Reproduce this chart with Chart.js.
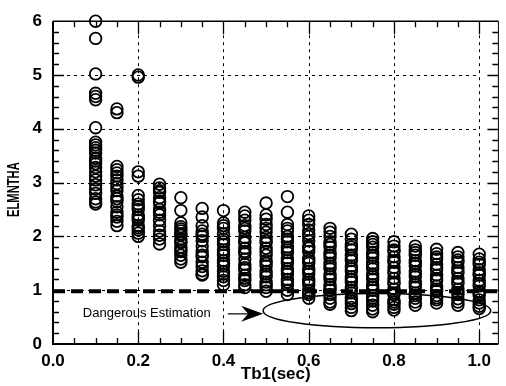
<!DOCTYPE html>
<html>
<head>
<meta charset="utf-8">
<script src="https://cdn.jsdelivr.net/npm/chart.js@4.4.0/dist/chart.umd.min.js"></script>
<style>
  html, body { margin: 0; padding: 0; background: #fff; }
</style>
</head>
<body>
<canvas id="chart" width="506" height="386"></canvas>
<script>
// column positions on the Tb1 axis (sec)
const tb1 = [0.1, 0.15, 0.2, 0.25, 0.3, 0.35, 0.4, 0.45, 0.5, 0.55,
             0.6, 0.65, 0.7, 0.75, 0.8, 0.85, 0.9, 0.95, 1.0];

// ELMNTHA values
const y010 = [6.0, 5.68, 5.02, 4.66, 4.6, 4.54, 4.02, 3.75, 3.7, 3.65, 3.6, 3.55, 3.45, 3.4, 3.35, 3.28, 3.2, 3.12, 3.05, 2.96, 2.88, 2.8, 2.7, 2.64, 2.6];
const y015 = [4.37, 4.3, 3.3, 3.24, 3.18, 3.12, 3.05, 2.98, 2.92, 2.85, 2.75, 2.7, 2.65, 2.55, 2.45, 2.4, 2.36, 2.28, 2.2];
const y020 = [5.0, 4.96, 3.2, 3.12, 2.76, 2.68, 2.6, 2.55, 2.5, 2.4, 2.35, 2.3, 2.2, 2.16, 2.12, 2.06, 2.0];
const y025 = [2.97, 2.9, 2.85, 2.82, 2.72, 2.65, 2.62, 2.5, 2.45, 2.4, 2.3, 2.2, 2.1, 2.02, 1.95, 1.86];
const y030 = [2.72, 2.48, 2.25, 2.18, 2.14, 2.1, 2.05, 2.02, 1.95, 1.9, 1.88, 1.8, 1.75, 1.72, 1.65, 1.58, 1.52];
const y035 = [2.52, 2.36, 2.2, 2.1, 2.04, 2.0, 1.92, 1.82, 1.72, 1.65, 1.62, 1.52, 1.44, 1.36, 1.3, 1.28];
const y040 = [2.48, 2.25, 2.2, 2.15, 2.05, 1.95, 1.9, 1.85, 1.75, 1.7, 1.65, 1.55, 1.5, 1.45, 1.35, 1.3, 1.25, 1.18, 1.1];
const y045 = [2.45, 2.38, 2.3, 2.2, 2.15, 2.1, 1.98, 1.92, 1.88, 1.78, 1.72, 1.68, 1.58, 1.48, 1.42, 1.38, 1.28, 1.22, 1.18, 1.1, 1.05];
const y050 = [2.62, 2.4, 2.32, 2.22, 2.15, 2.08, 1.98, 1.92, 1.88, 1.78, 1.72, 1.65, 1.55, 1.5, 1.45, 1.35, 1.3, 1.25, 1.15, 1.1, 1.05, 0.98];
const y055 = [2.74, 2.45, 2.22, 2.15, 2.1, 2.0, 1.95, 1.9, 1.8, 1.75, 1.7, 1.6, 1.55, 1.5, 1.4, 1.35, 1.3, 1.2, 1.15, 1.1, 1.0, 0.92];
const y060 = [2.38, 2.3, 2.22, 2.12, 2.05, 2.0, 1.92, 1.82, 1.78, 1.72, 1.6, 1.55, 1.5, 1.4, 1.35, 1.3, 1.2, 1.15, 1.1, 1.0, 0.95, 0.92, 0.85];
const y065 = [2.15, 2.08, 2.0, 1.9, 1.85, 1.8, 1.7, 1.65, 1.6, 1.5, 1.45, 1.4, 1.3, 1.25, 1.2, 1.1, 1.05, 1.0, 0.92, 0.85, 0.78, 0.74];
const y070 = [2.04, 1.95, 1.85, 1.8, 1.75, 1.65, 1.6, 1.55, 1.45, 1.4, 1.35, 1.25, 1.2, 1.15, 1.05, 1.0, 0.95, 0.85, 0.8, 0.75, 0.68, 0.62];
const y075 = [1.96, 1.9, 1.85, 1.8, 1.7, 1.65, 1.6, 1.5, 1.45, 1.4, 1.3, 1.25, 1.2, 1.1, 1.05, 1.0, 0.9, 0.85, 0.8, 0.72, 0.65, 0.6];
const y080 = [1.9, 1.82, 1.75, 1.72, 1.62, 1.55, 1.52, 1.42, 1.35, 1.32, 1.22, 1.15, 1.12, 1.02, 0.95, 0.92, 0.82, 0.78, 0.74, 0.68, 0.63];
const y085 = [1.82, 1.75, 1.7, 1.65, 1.55, 1.5, 1.45, 1.35, 1.3, 1.25, 1.15, 1.1, 1.05, 0.95, 0.9, 0.85, 0.78, 0.72];
const y090 = [1.76, 1.68, 1.62, 1.58, 1.48, 1.42, 1.38, 1.28, 1.22, 1.18, 1.08, 1.02, 0.98, 0.9, 0.86, 0.82, 0.76];
const y095 = [1.7, 1.62, 1.56, 1.52, 1.42, 1.36, 1.32, 1.22, 1.16, 1.12, 1.02, 0.96, 0.92, 0.84, 0.78, 0.72];
const y100 = [1.67, 1.58, 1.52, 1.48, 1.38, 1.32, 1.28, 1.18, 1.12, 1.08, 0.98, 0.94, 0.9, 0.82, 0.76, 0.7, 0.66];

const columns = [y010, y015, y020, y025, y030, y035, y040, y045, y050, y055,
                 y060, y065, y070, y075, y080, y085, y090, y095, y100];

// axis ticks
const xTicks = [0.0, 0.2, 0.4, 0.6, 0.8, 1.0];
const yTicks = [0, 1, 2, 3, 4, 5, 6];

const dangerLevel = 1.0;
const noteText = 'Dangerous Estimation';

const FONT = 'Liberation Sans, Arial, sans-serif';

const points = [];
tb1.forEach((x, i) => columns[i].forEach(y => points.push({ x: x, y: y })));

// frame, inward ticks, dashed grid, the y=1 line and the annotation
const decor = {
    id: 'decor',
    beforeDatasetsDraw(chart) {
        const { ctx, chartArea: a, scales: { x, y } } = chart;
        ctx.save();
        ctx.strokeStyle = '#000';
        ctx.lineWidth = 1;
        ctx.setLineDash([3, 4]);
        xTicks.slice(1).forEach(v => {
            const px = Math.round(x.getPixelForValue(v)) + 0.5;
            ctx.beginPath();
            ctx.moveTo(px, a.top);
            ctx.lineTo(px, a.bottom);
            ctx.stroke();
        });
        const gridRight = x.getPixelForValue(xTicks[xTicks.length - 1]);
        yTicks.slice(1, -1).forEach(v => {
            const py = Math.round(y.getPixelForValue(v)) + 0.5;
            ctx.beginPath();
            ctx.moveTo(a.left, py);
            ctx.lineTo(gridRight, py);
            ctx.stroke();
        });

        // thick dashed line at the danger level
        ctx.lineWidth = 4;
        ctx.setLineDash([12, 6]);
        const dy = y.getPixelForValue(dangerLevel) + 1;
        ctx.beginPath();
        ctx.moveTo(a.left, dy);
        ctx.lineTo(a.right, dy);
        ctx.stroke();
        ctx.restore();
    },
    afterDatasetsDraw(chart) {
        const { ctx, chartArea: a, scales: { x, y } } = chart;
        ctx.save();
        ctx.strokeStyle = '#000';
        ctx.fillStyle = '#000';
        ctx.setLineDash([]);

        // frame
        ctx.lineWidth = 2;
        ctx.beginPath();
        ctx.moveTo(a.left, a.top);
        ctx.lineTo(a.left, a.bottom);
        ctx.lineTo(a.right, a.bottom);
        ctx.stroke();
        ctx.lineWidth = 1.5;
        ctx.beginPath();
        ctx.moveTo(a.left, a.top);
        ctx.lineTo(a.right, a.top);
        ctx.stroke();
        ctx.lineWidth = 1;
        ctx.beginPath();
        ctx.moveTo(a.right, a.top);
        ctx.lineTo(a.right, a.bottom);
        ctx.stroke();

        // inward ticks, minor every 0.05 on x and 0.2 on y
        ctx.lineWidth = 1.3;
        for (let k = 1; k <= 20; k++) {
            const px = Math.round(x.getPixelForValue(k * 0.05)) + 0.5;
            const len = k % 4 === 0 ? 13 : 6;
            ctx.beginPath();
            ctx.moveTo(px, a.bottom);
            ctx.lineTo(px, a.bottom - len);
            ctx.moveTo(px, a.top);
            ctx.lineTo(px, a.top + len);
            ctx.stroke();
        }
        for (let k = 1; k < 30; k++) {
            const py = Math.round(y.getPixelForValue(k * 0.2)) + 0.5;
            const len = k % 5 === 0 ? 11 : 6;
            ctx.beginPath();
            ctx.moveTo(a.left, py);
            ctx.lineTo(a.left + len, py);
            ctx.moveTo(a.right, py);
            ctx.lineTo(a.right - len, py);
            ctx.stroke();
        }

        // ellipse around the low points
        const cx = x.getPixelForValue(0.76), cy = y.getPixelForValue(0.62);
        const rx = x.getPixelForValue(0.76 + 0.267) - cx;
        const ry = cy - y.getPixelForValue(0.62 + 0.32);
        ctx.lineWidth = 1.5;
        ctx.beginPath();
        ctx.ellipse(cx, cy, rx, ry, 0, 0, Math.PI * 2);
        ctx.stroke();

        // arrow from the note to the ellipse
        const ay = y.getPixelForValue(0.56);
        const ax0 = x.getPixelForValue(0.41);
        const tip = cx - rx;
        ctx.lineWidth = 1.2;
        ctx.beginPath();
        ctx.moveTo(ax0, ay);
        ctx.lineTo(tip - 14, ay);
        ctx.stroke();
        ctx.beginPath();
        ctx.moveTo(tip, ay);
        ctx.lineTo(tip - 22, ay - 8);
        ctx.lineTo(tip - 15, ay);
        ctx.lineTo(tip - 22, ay + 8);
        ctx.closePath();
        ctx.fill();

        // note text
        ctx.font = '13px ' + FONT;
        ctx.textAlign = 'left';
        ctx.textBaseline = 'middle';
        ctx.fillText(noteText, x.getPixelForValue(0.07), ay);

        // axis titles
        ctx.font = 'bold 17px ' + FONT;
        ctx.textAlign = 'center';
        ctx.fillText('Tb1(sec)', (a.left + a.right) / 2, a.bottom + 30);

        ctx.translate(14, (a.top + a.bottom) / 2 + 7);
        ctx.rotate(-Math.PI / 2);
        ctx.scale(0.66, 1);
        ctx.font = 'bold 17px ' + FONT;
        ctx.fillText('ELMNTHA', 0, 0);
        ctx.restore();
    }
};

const ctx = document.getElementById('chart').getContext('2d');
new Chart(ctx, {
    type: 'scatter',
    data: {
        datasets: [{
            data: points,
            clip: false,
            pointStyle: 'circle',
            pointRadius: 5.8,
            pointBorderWidth: 1.8,
            borderColor: '#000',
            backgroundColor: 'rgba(0,0,0,0)'
        }]
    },
    options: {
        responsive: false,
        animation: false,
        devicePixelRatio: 1,
        layout: { padding: { top: 14, right: 4, left: 0, bottom: 0 } },
        plugins: {
            legend: { display: false },
            tooltip: { enabled: false }
        },
        scales: {
            x: {
                type: 'linear',
                min: 0,
                max: 1.045,
                afterBuildTicks: s => { s.ticks = xTicks.map(v => ({ value: v })); },
                afterFit: s => { s.height = 42; },
                grid: { display: false, drawTicks: false },
                border: { display: false },
                ticks: {
                    padding: 7,
                    maxRotation: 0,
                    minRotation: 0,
                    autoSkip: false,
                    color: '#000',
                    font: { family: FONT, size: 17, weight: 'bold' },
                    callback: v => v.toFixed(1)
                }
            },
            y: {
                type: 'linear',
                min: 0,
                max: 6,
                afterBuildTicks: s => { s.ticks = yTicks.map(v => ({ value: v })); },
                afterFit: s => { s.width = 53; },
                grid: { display: false, drawTicks: false },
                border: { display: false },
                ticks: {
                    padding: 11,
                    autoSkip: false,
                    color: '#000',
                    font: { family: FONT, size: 17, weight: 'bold' },
                    callback: v => String(v)
                }
            }
        }
    },
    plugins: [decor]
});
</script>
</body>
</html>
